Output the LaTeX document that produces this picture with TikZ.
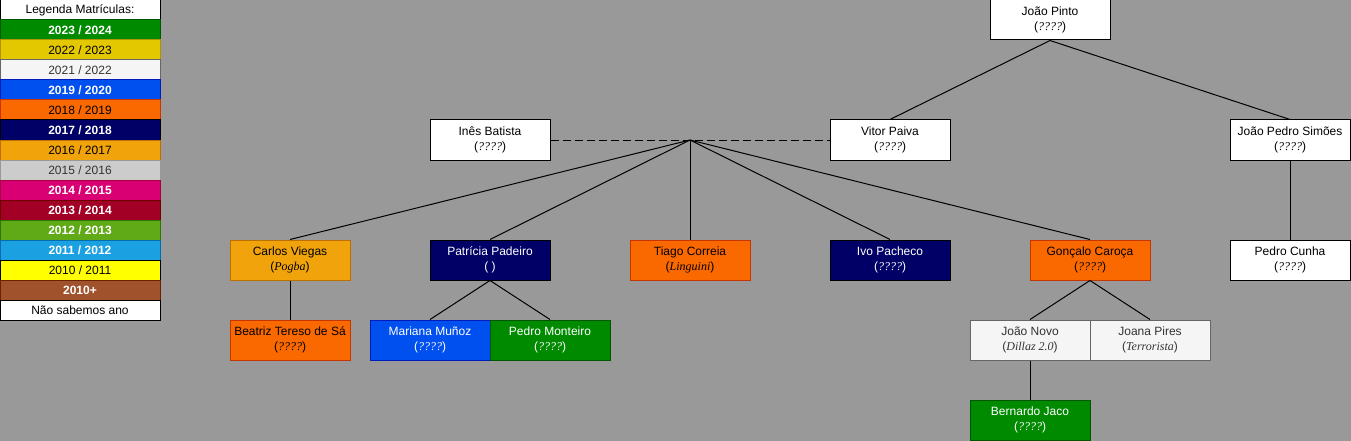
\documentclass[tikz,border=0pt]{standalone}
\usepackage{fontspec}
\setmainfont{Liberation Sans}
\newfontfamily\nickfont{Liberation Serif}
\newcommand{\nick}[1]{({\nickfont\itshape #1})}

\definecolor{bggray}{HTML}{999999}
\definecolor{c2324}{HTML}{008A00}\definecolor{s2324}{HTML}{005700}
\definecolor{c2223}{HTML}{E3C800}\definecolor{s2223}{HTML}{B09500}
\definecolor{c2122}{HTML}{F5F5F5}\definecolor{s2122}{HTML}{666666}
\definecolor{c1920}{HTML}{0050EF}\definecolor{s1920}{HTML}{001DBC}
\definecolor{c1819}{HTML}{FA6800}\definecolor{s1819}{HTML}{C73500}
\definecolor{c1718}{HTML}{000066}
\definecolor{c1617}{HTML}{F0A30A}\definecolor{s1617}{HTML}{BD7000}
\definecolor{c1516}{HTML}{CCCCCC}\definecolor{s1516}{HTML}{999999}
\definecolor{c1415}{HTML}{D80073}\definecolor{s1415}{HTML}{A50040}
\definecolor{c1314}{HTML}{A20025}\definecolor{s1314}{HTML}{6F0000}
\definecolor{c1213}{HTML}{60A917}\definecolor{s1213}{HTML}{2D7600}
\definecolor{c1112}{HTML}{1BA1E2}\definecolor{s1112}{HTML}{006EAF}
\definecolor{c1011}{HTML}{FFFF00}
\definecolor{c10}{HTML}{A0522D}\definecolor{s10}{HTML}{6D1F00}
\definecolor{dark}{HTML}{333333}

\tikzstyle{none}=[fill=white, draw=black, text=black]
\tikzstyle{y2324}=[fill=c2324, draw=s2324, text=white]
\tikzstyle{y2223}=[fill=c2223, draw=s2223, text=black]
\tikzstyle{y2122}=[fill=c2122, draw=s2122, text=dark]
\tikzstyle{y1920}=[fill=c1920, draw=s1920, text=white]
\tikzstyle{y1819}=[fill=c1819, draw=s1819, text=black]
\tikzstyle{y1718}=[fill=c1718, draw=black, text=white]
\tikzstyle{y1617}=[fill=c1617, draw=s1617, text=black]
\tikzstyle{y1516}=[fill=c1516, draw=s1516, text=dark]
\tikzstyle{y1415}=[fill=c1415, draw=s1415, text=white]
\tikzstyle{y1314}=[fill=c1314, draw=s1314, text=white]
\tikzstyle{y1213}=[fill=c1213, draw=s1213, text=white]
\tikzstyle{y1112}=[fill=c1112, draw=s1112, text=white]
\tikzstyle{y1011}=[fill=c1011, draw=black, text=black]
\tikzstyle{y10}=[fill=c10, draw=s10, text=white]

\begin{document}
\begin{tikzpicture}[x=1pt, y=-1pt]
    \fill[bggray] (0,0) rectangle (1351,441);
    \useasboundingbox (0,0) rectangle (1351,441);
    % legenda
    \begin{scope}
        \tikzstyle{every node}=[line width=1pt, minimum width=160, minimum height=20, inner sep=0, font=\fontsize{12}{14}\selectfont]
        \foreach \i/\s/\t in {0/none/{Legenda Matrículas:},
            1/y2324/{\textbf{2023 / 2024}}, 2/y2223/{2022 / 2023}, 3/y2122/{2021 / 2022},
            4/y1920/{\textbf{2019 / 2020}}, 5/y1819/{2018 / 2019}, 6/y1718/{\textbf{2017 / 2018}},
            7/y1617/{2016 / 2017}, 8/y1516/{2015 / 2016}, 9/y1415/{\textbf{2014 / 2015}},
            10/y1314/{\textbf{2013 / 2014}}, 11/y1213/{\textbf{2012 / 2013}}, 12/y1112/{\textbf{2011 / 2012}},
            13/y1011/{2010 / 2011}, 14/y10/{\textbf{2010+}}, 15/none/{Não sabemos ano}}
            \node[\s] (l\i) at (80,10+20*\i) {\t};
    \end{scope}
    % arvore
    \begin{scope}
        \tikzstyle{every node}=[line width=1pt, minimum width=120, minimum height=40, inner sep=0, align=center, font=\fontsize{12}{15}\selectfont]
        \node[none] (0) at (1050,20) {João Pinto\\\nick{????}};
        \node[none] (1) at (490,140) {Inês Batista\\\nick{????}};
        \node[none] (2) at (890,140) {Vitor Paiva\\\nick{????}};
        \node[none] (3) at (1290,140) {João Pedro Simões\\\nick{????}};
        \node[y1617] (4) at (290,260) {Carlos Viegas\\\nick{Pogba}};
        \node[y1718] (5) at (490,260) {Patrícia Padeiro\\( )};
        \node[y1819] (6) at (690,260) {Tiago Correia\\\nick{Linguini}};
        \node[y1718] (7) at (890,260) {Ivo Pacheco\\\nick{????}};
        \node[y1819] (8) at (1090,260) {Gonçalo Caroça\\\nick{????}};
        \node[none] (9) at (1290,260) {Pedro Cunha\\\nick{????}};
        \node[y1819] (10) at (290,340) {Beatriz Tereso de Sá\\\nick{????}};
        \node[y1920] (11) at (430,340) {Mariana Muñoz\\\nick{????}};
        \node[y2324] (12) at (550,340) {Pedro Monteiro\\\nick{????}};
        \node[y2122] (13) at (1030,340) {João Novo\\\nick{Dillaz 2.0}};
        \node[y2122] (14) at (1150,340) {Joana Pires\\\nick{Terrorista}};
        \node[y2324] (15) at (1030,420) {Bernardo Jaco\\\nick{????}};
        \coordinate (j) at (690,140);
    \end{scope}
    \begin{scope}
        \tikzstyle{every edge}=[draw, line width=1pt, black]
        \path
        (1.east) edge[dash pattern=on 8pt off 4pt] (2.west)
        (0.south) edge (2.north)
        (0.south) edge (3.north)
        (3.south) edge (9.north)
        (j) edge (4.north)
        (j) edge (5.north)
        (j) edge (6.north)
        (j) edge (7.north)
        (j) edge (8.north)
        (4.south) edge (10.north)
        (5.south) edge (11.north)
        (5.south) edge (12.north)
        (8.south) edge (13.north)
        (8.south) edge (14.north)
        (13.south) edge (15.north)
        ;
    \end{scope}
\end{tikzpicture}
\end{document}
